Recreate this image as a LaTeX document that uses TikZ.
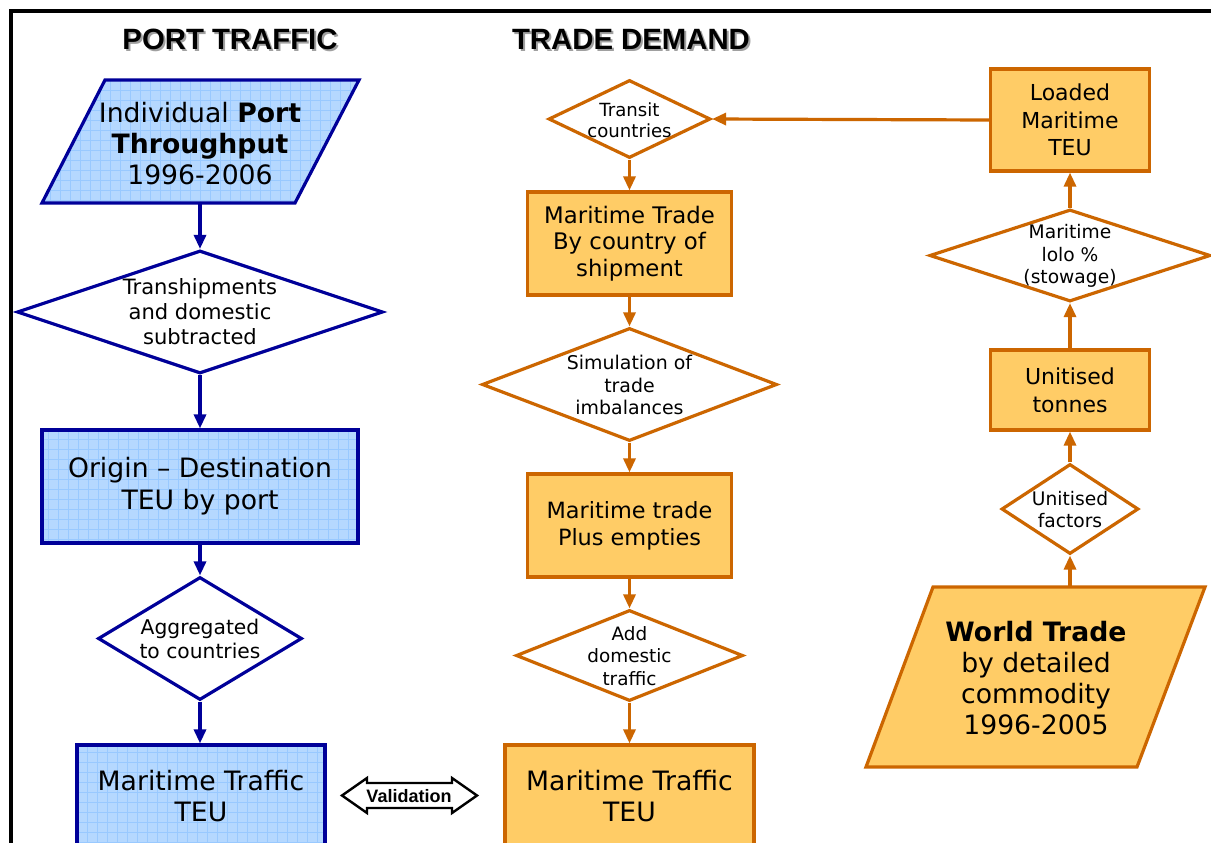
\documentclass[tikz,border=0pt]{standalone}
\usepackage{fontspec}
\setmainfont{DejaVu Sans}
\newfontfamily\arialfont{Liberation Sans}
\usetikzlibrary{shapes.geometric,arrows.meta}
\definecolor{bluefill}{HTML}{B5D8FF}
\definecolor{bluegrid}{HTML}{99C9FF}
\definecolor{bluedraw}{HTML}{000099}
\definecolor{orfill}{HTML}{FFCC66}
\definecolor{ordraw}{HTML}{CC6600}
\definecolor{shadowgray}{HTML}{A0A0A0}
\begin{document}
\begin{tikzpicture}[x=0.75pt,y=-0.75pt,
  bluestyle/.style={draw=bluedraw, line width=2.4pt, fill=bluefill,
    path picture={\draw[bluegrid, line width=0.6pt, step=7.5pt]
      (path picture bounding box.south west) grid (path picture bounding box.north east);}},
  orstyle/.style={draw=ordraw, line width=2.4pt, fill=orfill},
  bbox/.style={bluestyle, rectangle, inner sep=0pt, align=center},
  obox/.style={orstyle, rectangle, inner sep=0pt, align=center},
  bdia/.style={diamond, draw=bluedraw, line width=2.4pt, fill=white, inner sep=0pt},
  odia/.style={diamond, draw=ordraw, line width=2.4pt, fill=white, inner sep=0pt},
  txt/.style={align=center, inner sep=0pt},
  barr/.style={draw=bluedraw, line width=2.4pt, -{Triangle[length=10.5pt,width=9pt]}},
  oarr/.style={draw=ordraw, line width=2.4pt, -{Triangle[length=10.5pt,width=9pt]}},
  title/.style={font=\arialfont\bfseries\fontsize{22}{26}\selectfont, inner sep=0pt},
  fs/.style n args={2}{font=\fontsize{#1}{#2}\selectfont}
]
\useasboundingbox (0,0) rectangle (1211,843);
\clip (0,0) rectangle (1211,843);
\fill[white] (0,0) rectangle (1211,843);

% frame
\draw[line width=3pt] (11,845) -- (11,11) -- (1212,11);

% titles
\node[title, text=shadowgray] (pts) at (232,41) {PORT TRAFFIC};
\node[title] (pt) at (230,39) {PORT TRAFFIC};
\node[title, text=shadowgray] (tds) at (633,41) {TRADE DEMAND};
\node[title] (td) at (631,39) {TRADE DEMAND};

% ---------- left column (blue) ----------
\filldraw[bluestyle, line join=miter] (105,80) -- (359,80) -- (295,203) -- (42,203) -- cycle;
\node[txt, fs={20}{23.25}] (p1) at (200,143.5) {Individual \textbf{Port}\\\textbf{Throughput}\\1996-2006};
\coordinate (p1s) at (200,203);

\node[bdia, minimum width=274.5pt, minimum height=92.25pt] (d1) at (200,312) {};
\node[txt, fs={15.8}{18.75}] (d1t) at (200,312) {Transhipments\\and domestic\\subtracted};

\node[bbox, minimum width=237pt, minimum height=84.75pt, fs={20}{24}] (b1) at (200,486.5) {Origin -- Destination\\TEU by port};

\node[bdia, minimum width=153pt, minimum height=92.25pt] (d2) at (200,638.5) {};
\node[txt, fs={15.2}{18}] (d2t) at (200,639) {Aggregated\\to countries};

\node[bbox, minimum width=186pt, minimum height=77.25pt, fs={20}{23.25}] (b2) at (201,796.5) {Maritime Traffic\\TEU};

\draw[barr] (p1s) -- (d1.north);
\draw[barr] (d1.south) -- (b1.north);
\draw[barr] (b1.south) -- (d2.north);
\draw[barr] (d2.south) -- (b2.north -| d2.south);

% validation double arrow
\filldraw[draw=black, fill=white, line width=1.8pt, line join=miter]
  (342,795.5) -- (367,778) -- (367,783) -- (452,783) -- (452,778) -- (477,795.5)
  -- (452,813) -- (452,808) -- (367,808) -- (367,813) -- cycle;
\node[txt, font=\arialfont\bfseries\fontsize{13.5}{16}\selectfont] (val) at (409,796) {Validation};

% ---------- middle column (orange) ----------
\node[odia, minimum width=121.5pt, minimum height=58.5pt] (t1) at (629.5,119) {};
\node[txt, fs={13.6}{16}] (t1t) at (629.5,120.5) {Transit\\countries};

\node[obox, minimum width=153pt, minimum height=77.25pt, fs={17.1}{20}] (o1) at (629.5,243.5) {Maritime Trade\\By country of\\shipment};

\node[odia, minimum width=221.25pt, minimum height=84.75pt] (t2) at (629.5,384.5) {};
\node[txt, fs={14.2}{17.2}] (t2t) at (629.5,385) {Simulation of\\trade\\imbalances};

\node[obox, minimum width=153pt, minimum height=77.25pt, fs={16.8}{20}] (o2) at (629.5,525.5) {Maritime trade\\Plus empties};

\node[odia, minimum width=170.25pt, minimum height=68.25pt] (t3) at (629.5,655.5) {};
\node[txt, fs={13.8}{16.8}] (t3t) at (629.5,656) {Add\\domestic\\traffic};

\node[obox, minimum width=186.75pt, minimum height=77.25pt, fs={20}{23.25}] (o3) at (629.5,796.5) {Maritime Traffic\\TEU};

\draw[oarr] (t1.south) -- (o1.north);
\draw[oarr] (o1.south) -- (t2.north);
\draw[oarr] (t2.south) -- (o2.north);
\draw[oarr] (o2.south) -- (t3.north);
\draw[oarr] (t3.south) -- (o3.north);

% ---------- right column (orange) ----------
\node[obox, minimum width=119.25pt, minimum height=76.5pt, fs={16.5}{20.5}] (r1) at (1070,120) {Loaded\\Maritime\\TEU};

\node[odia, minimum width=210.75pt, minimum height=69pt] (s1) at (1070,255.5) {};
\node[txt, fs={14}{17}] (s1t) at (1070,256) {Maritime\\lolo \%\\(stowage)};

\node[obox, minimum width=119.25pt, minimum height=60pt, fs={16.5}{21}] (r2) at (1070,390) {Unitised\\tonnes};

\node[odia, minimum width=102.75pt, minimum height=67.5pt] (s2) at (1070,509) {};
\node[txt, fs={14}{16.5}] (s2t) at (1070,509.5) {Unitised\\factors};

\filldraw[orstyle, line join=miter] (933,587) -- (1205,587) -- (1137,767) -- (866,767) -- cycle;
\node[txt, fs={20}{23.25}] (p2) at (1036,678) {\textbf{World Trade}\\by detailed\\commodity\\1996-2005};
\coordinate (p2n) at (1070,587);

\draw[oarr] (r1.west) -- (t1.east);
\draw[oarr] (s1.north) -- (r1.south);
\draw[oarr] (r2.north) -- (s1.south);
\draw[oarr] (s2.north) -- (r2.south);
\draw[oarr] (p2n) -- (s2.south);
\end{tikzpicture}
\end{document}
